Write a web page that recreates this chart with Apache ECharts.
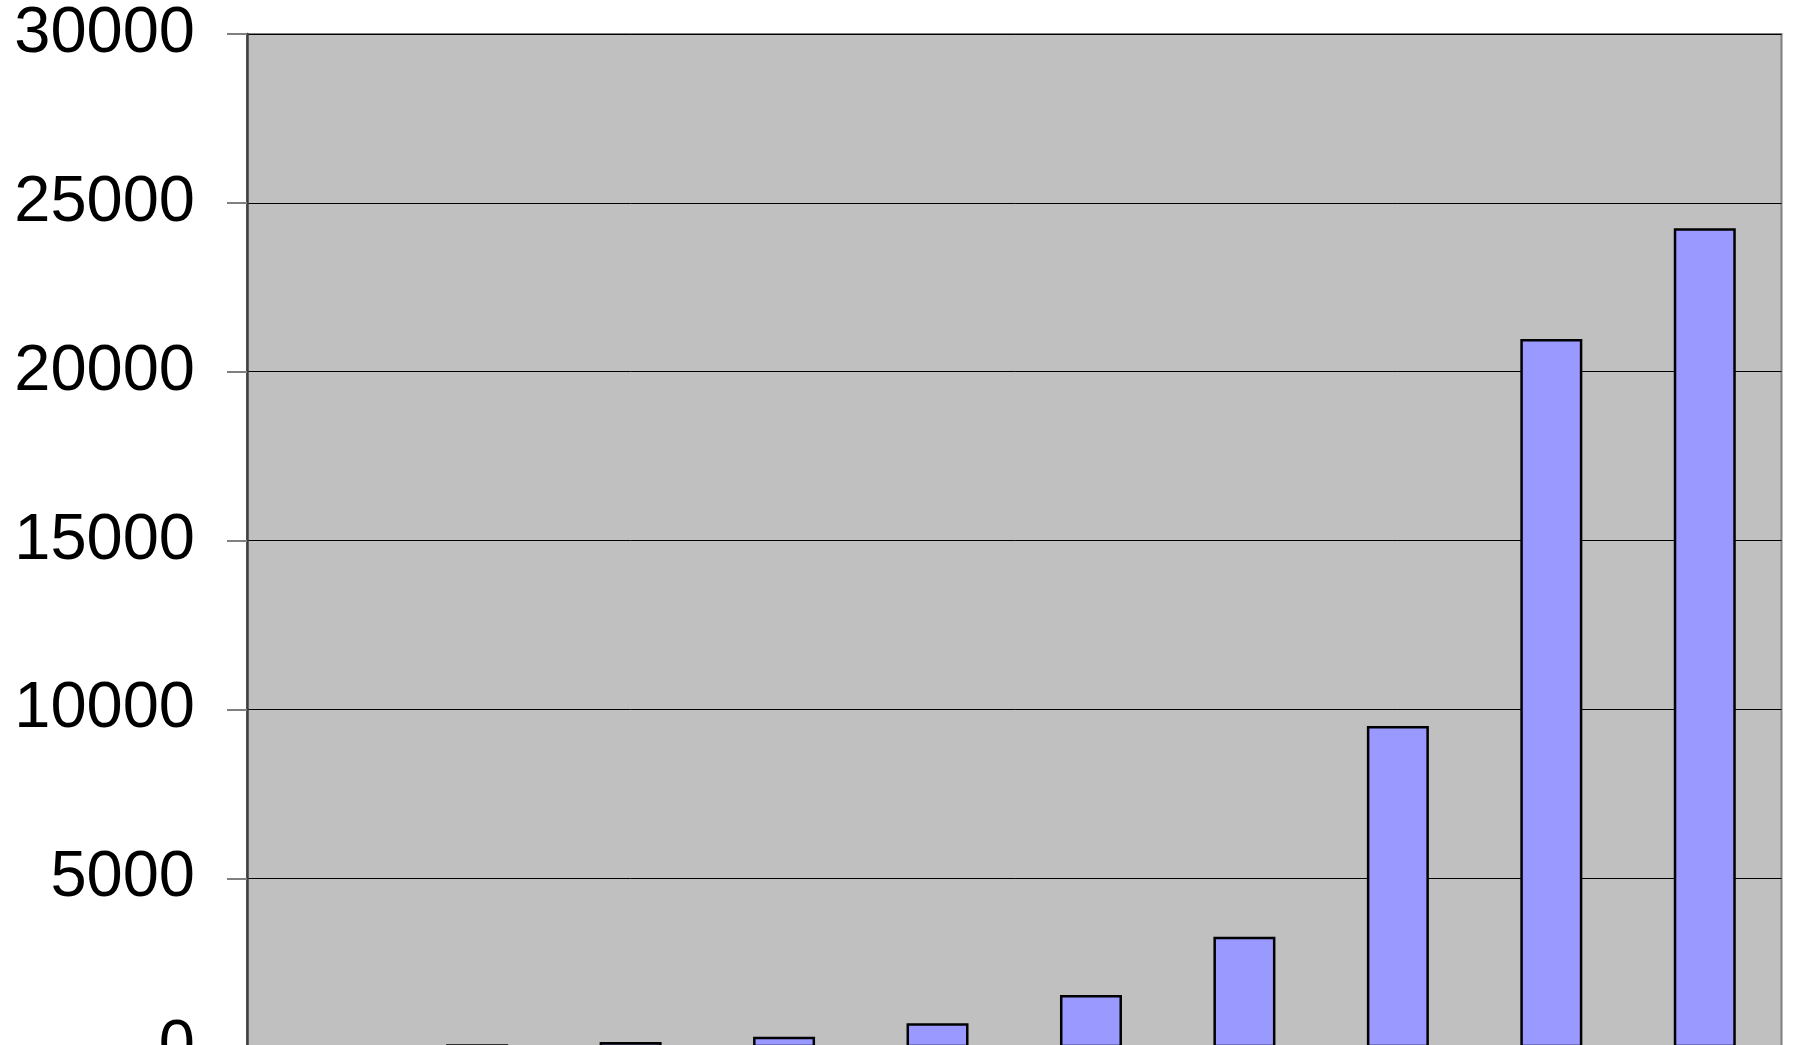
<!DOCTYPE html>
<html>
<head>
<meta charset="utf-8">
<script src="https://cdn.jsdelivr.net/npm/echarts@6/dist/echarts.min.js"></script>
<style>
html,body{margin:0;padding:0;background:#fff;}
#chart{width:1796px;height:1045px;}
</style>
</head>
<body>
<div id="chart"></div>
<script>
const categories = ['1','2','3','4','5','6','7','8','9','10'];
const values = [40, 86, 154, 311, 708, 1546, 3272, 9510, 20970, 24250];
const yTicks = [0, 5000, 10000, 15000, 20000, 25000, 30000];

const chart = echarts.init(document.getElementById('chart'), null, {renderer:'canvas'});
chart.setOption({
  animation: false,
  backgroundColor: '#ffffff',
  grid: {
    left: 247, top: 34, width: 1534.5, height: 1013.2,
    show: true, backgroundColor: '#c0c0c0', borderColor: '#808080', borderWidth: 2,
    containLabel: false,
    outerBoundsMode: 'none'
  },
  xAxis: {
    type: 'category',
    data: categories,
    axisLine: {show: false},
    axisTick: {show: false},
    axisLabel: {show: false}
  },
  yAxis: {
    type: 'value',
    min: yTicks[0],
    max: yTicks[yTicks.length - 1],
    interval: 5000,
    axisLine: {show: true, lineStyle: {color: '#404040', width: 2.5}},
    axisTick: {show: true, length: 20, lineStyle: {color: '#808080', width: 2}},
    axisLabel: {
      show: true, margin: 52, fontSize: 65, color: '#000000',
      fontFamily: 'Liberation Sans, Arial, sans-serif',
      padding: [8, 0, 0, 0],
      formatter: function (v) { return String(v); }
    },
    splitLine: {show: true, lineStyle: {color: '#000000', width: 1}}
  },
  series: [{
    type: 'bar',
    data: values,
    barWidth: 62,
    itemStyle: {color: '#9999ff', borderColor: '#000000', borderWidth: 2.5}
  }]
});
</script>
</body>
</html>
